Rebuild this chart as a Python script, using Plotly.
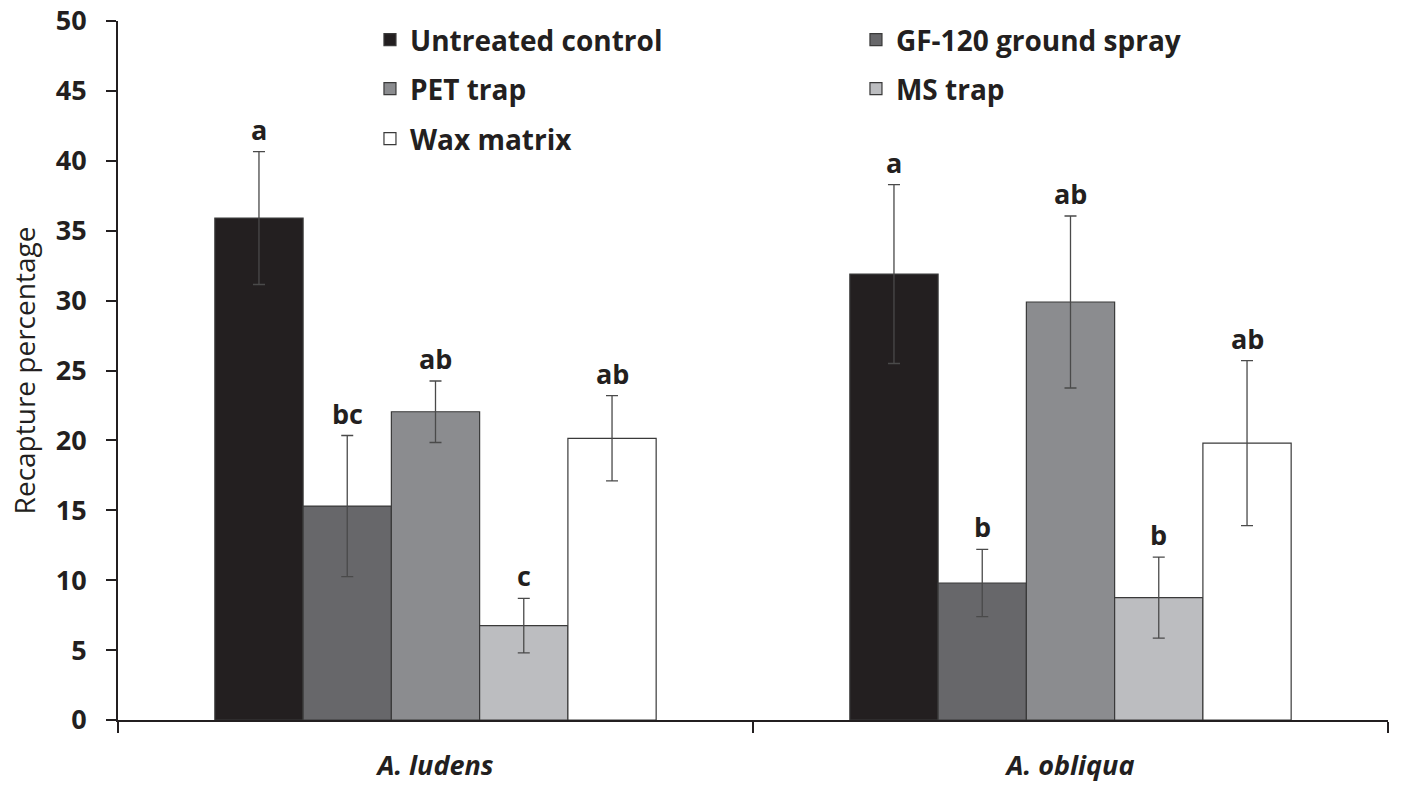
import plotly.graph_objects as go

species = ["A. ludens", "A. obliqua"]
treatments = ["Untreated control", "GF-120 ground spray", "PET trap", "MS trap", "Wax matrix"]
means = {
    "Untreated control": [35.9, 31.9],
    "GF-120 ground spray": [15.3, 9.8],
    "PET trap": [22.05, 29.9],
    "MS trap": [6.75, 8.75],
    "Wax matrix": [20.15, 19.8],
}
errors = {
    "Untreated control": [4.75, 6.4],
    "GF-120 ground spray": [5.05, 2.4],
    "PET trap": [2.2, 6.15],
    "MS trap": [1.95, 2.9],
    "Wax matrix": [3.05, 5.9],
}
letters = {
    "Untreated control": ["a", "a"],
    "GF-120 ground spray": ["bc", "b"],
    "PET trap": ["ab", "ab"],
    "MS trap": ["c", "b"],
    "Wax matrix": ["ab", "ab"],
}
colors = ["#231f20", "#67676a", "#8b8c8f", "#bcbdc0", "#ffffff"]
legend_ids = ["legend", "legend", "legend2", "legend2", "legend3"]

FONT = "Open Sans"
INK = "#231f20"

fig = go.Figure()
for t, c, lg in zip(treatments, colors, legend_ids):
    fig.add_trace(go.Bar(
        name=t, x=species, y=means[t],
        marker=dict(color=c, line=dict(color="#3a3a3a", width=1.2)),
        error_y=dict(type="data", array=errors[t], visible=True,
                     color="#4a4a4a", thickness=1.3, width=6),
        legend=lg,
    ))

# significance letters
n = len(treatments)
group_frac = 1 - 0.305
bw = group_frac / n
annotations = []
for i, t in enumerate(treatments):
    for j, s in enumerate(species):
        off = -group_frac / 2 + bw * (i + 0.5)
        annotations.append(dict(
            x=j + off, y=means[t][j] + errors[t][j], xref="x", yref="y",
            text="<b>%s</b>" % letters[t][j], showarrow=False,
            yanchor="bottom", yshift=2,
            font=dict(family=FONT, size=27, color=INK),
        ))

leg_common = dict(orientation="h", entrywidth=441, entrywidthmode="pixels",
                  font=dict(family=FONT, size=28, color=INK, weight="bold"),
                  bgcolor="rgba(0,0,0,0)", xanchor="left", yanchor="middle",
                  itemclick=False)
fig.update_layout(
    width=1403, height=785,
    margin=dict(l=118, r=15, t=21, b=65, autoexpand=False),
    paper_bgcolor="white", plot_bgcolor="white",
    barmode="group", bargap=0.305, bargroupgap=0,
    showlegend=True,
    legend=dict(x=0.1984, y=0.9728, **leg_common),
    legend2=dict(x=0.1984, y=0.9027, **leg_common),
    legend3=dict(x=0.1984, y=0.8312, **leg_common),
    annotations=annotations,
    xaxis=dict(
        showline=True, linecolor=INK, linewidth=2,
        ticks="outside", tickson="boundaries", ticklen=11, tickwidth=2,
        tickcolor=INK,
        tickfont=dict(family=FONT, size=27, color=INK, weight="bold", style="italic"),
        ticklabelstandoff=21,
    ),
    yaxis=dict(
        range=[0, 50], dtick=5, showgrid=False, zeroline=False,
        showline=True, linecolor=INK, linewidth=2,
        ticks="outside", ticklen=10, tickwidth=2, tickcolor=INK,
        tickfont=dict(family=FONT, size=27, color=INK, weight="bold"),
        ticklabelstandoff=14,
        title=dict(text="Recapture percentage", standoff=12,
                   font=dict(family=FONT, size=28, color=INK)),
    ),
)
fig.write_html("out.html", post_script="document.body.style.margin='0px';",
               config={"displayModeBar": False})
